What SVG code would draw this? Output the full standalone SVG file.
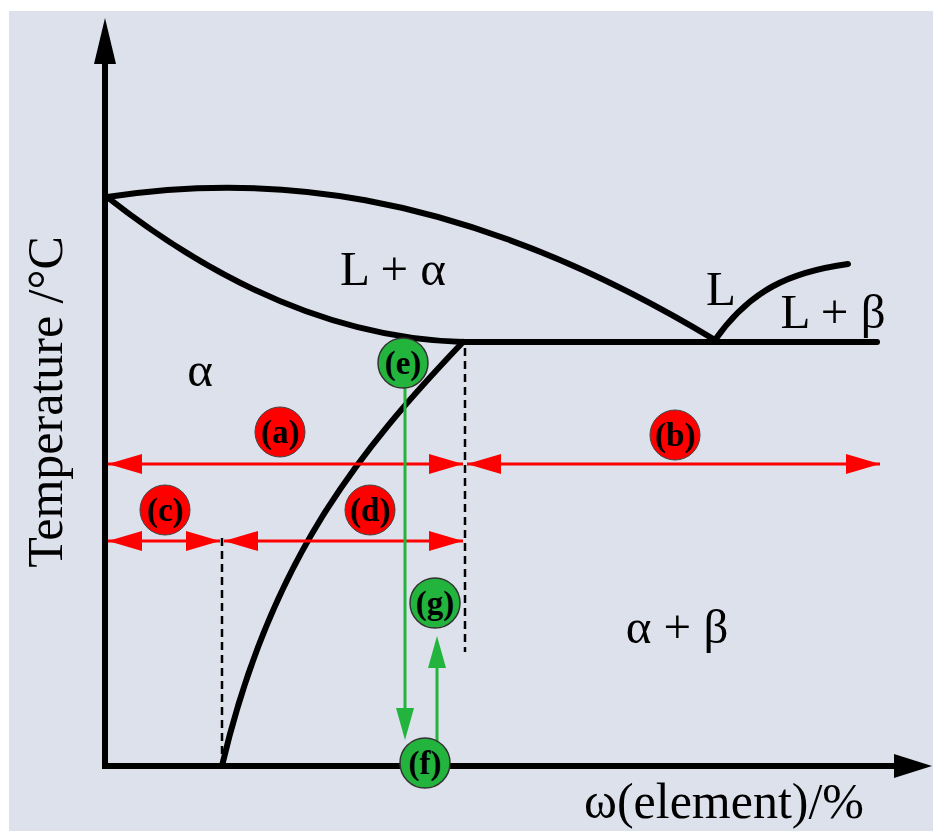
<svg xmlns="http://www.w3.org/2000/svg" width="933" height="831" viewBox="0 0 933 831">
<style>
.bg{fill:#dde1eb}
.ax{stroke:#000;stroke-width:6;fill:none}
.cur{stroke:#000;stroke-width:6;fill:none;stroke-linecap:round}
.dash{stroke:#000;stroke-width:2.5;stroke-dasharray:8,5;fill:none}
.red{stroke:#ff0000;stroke-width:3;fill:none}
.grn{stroke:#22b43c;stroke-width:3;fill:none}
.lbl{font-family:"Liberation Serif","DejaVu Serif",serif;fill:#000}
.ph{font-size:49px}
.cl{font-family:"Liberation Serif","DejaVu Serif",serif;font-size:33px;font-weight:bold;text-anchor:middle;fill:#000}
.rc{fill:#ff0000;stroke:#444;stroke-width:1}
.gc{fill:#22b43c;stroke:#333;stroke-width:1.5}
</style>
<defs>
<marker id="ra" viewBox="0 0 34 20" refX="34" refY="10" markerWidth="34" markerHeight="20" markerUnits="userSpaceOnUse" orient="auto-start-reverse"><path d="M0,0 L34,10 L0,20 Z" fill="#ff0000"/></marker>
</defs>
<rect class="bg" x="9" y="11" width="924" height="820"/>
<g id="axes">
<path class="ax" d="M105,766 V55"/>
<path d="M105,18 L94,64 L116,64 Z" fill="#000"/>
<path class="ax" d="M102,766 H900"/>
<path d="M932,766 L894,754 L894,778 Z" fill="#000"/>
</g>
<g id="curves">
<path class="cur" d="M107,197 C250,175 450,180 715,340"/>
<path class="cur" d="M107,197 C200,270 320,338 463,342"/>
<path class="cur" d="M463,342 H877"/>
<path class="cur" d="M715,340 C750,290 790,272 848,264"/>
<path class="cur" d="M463,342 C360,450 270,560 222,766"/>
<path class="dash" d="M465,348 V652"/>
<path class="dash" d="M222,538 V760"/>
</g>
<g id="connectors">
<path class="red" d="M108,464 H463" marker-start="url(#ra)" marker-end="url(#ra)"/>
<path class="red" d="M467,464 H880" marker-start="url(#ra)" marker-end="url(#ra)"/>
<path class="red" d="M108,541 H220" marker-start="url(#ra)" marker-end="url(#ra)"/>
<path class="red" d="M224,541 H463" marker-start="url(#ra)" marker-end="url(#ra)"/>
<path class="grn" d="M405,380 V710"/>
<path d="M396,708 L414,708 L405,740 Z" fill="#22b43c"/>
<path class="grn" d="M437,745 V666"/>
<path d="M428,668 L446,668 L437,636 Z" fill="#22b43c"/>
</g>
<g id="labels">
<text class="lbl ph" x="393" y="285" text-anchor="middle">L + α</text>
<text class="lbl ph" x="721" y="305" text-anchor="middle">L</text>
<text class="lbl ph" x="833" y="328" text-anchor="middle">L + β</text>
<text class="lbl ph" x="200" y="386" text-anchor="middle">α</text>
<text class="lbl ph" x="677" y="643" text-anchor="middle">α + β</text>
<text class="lbl" font-size="50" x="724" y="818" text-anchor="middle">ω(element)/%</text>
<text class="lbl" font-size="50" x="0" y="0" text-anchor="middle" transform="translate(62,402) rotate(-90)">Temperature /°C</text>
</g>
<g id="node-a"><circle class="rc" cx="280" cy="432" r="25"/><text class="cl" x="280" y="443">(a)</text></g>
<g id="node-b"><circle class="rc" cx="675" cy="435" r="25"/><text class="cl" x="675" y="446">(b)</text></g>
<g id="node-c"><circle class="rc" cx="165" cy="510" r="25"/><text class="cl" x="165" y="521">(c)</text></g>
<g id="node-d"><circle class="rc" cx="370" cy="510" r="25"/><text class="cl" x="370" y="521">(d)</text></g>
<g id="node-e"><circle class="gc" cx="403" cy="363" r="25"/><text class="cl" x="403" y="374">(e)</text></g>
<g id="node-g"><circle class="gc" cx="435" cy="603" r="25"/><text class="cl" x="435" y="614">(g)</text></g>
<g id="node-f"><circle class="gc" cx="425" cy="763" r="25"/><text class="cl" x="425" y="774">(f)</text></g>
</svg>
